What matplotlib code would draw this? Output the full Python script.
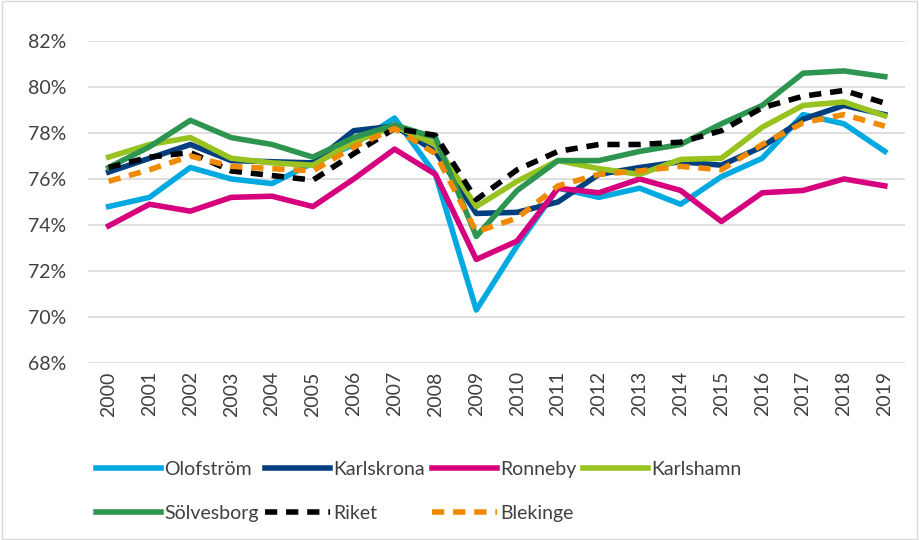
import matplotlib.pyplot as plt
from matplotlib.ticker import FuncFormatter

years = list(range(2000, 2020))

olofstrom = [74.8, 75.2, 76.5, 76.0, 75.8, 76.7, 77.5, 78.65, 76.2, 70.3,
             73.1, 75.6, 75.2, 75.6, 74.9, 76.1, 76.9, 78.8, 78.4, 77.2]
karlskrona = [76.3, 76.9, 77.5, 76.8, 76.75, 76.7, 78.1, 78.3, 77.2, 74.5,
              74.55, 75.0, 76.2, 76.5, 76.75, 76.6, 77.4, 78.6, 79.2, 78.8]
ronneby = [73.96, 74.9, 74.6, 75.2, 75.25, 74.8, 76.0, 77.3, 76.2, 72.5,
           73.3, 75.6, 75.4, 76.0, 75.5, 74.15, 75.4, 75.5, 76.0, 75.7]
karlshamn = [76.95, 77.5, 77.8, 76.9, 76.7, 76.6, 77.6, 78.3, 77.5, 74.8,
             75.9, 76.8, 76.45, 76.2, 76.85, 76.9, 78.25, 79.2, 79.35, 78.75]
solvesborg = [76.5, 77.4, 78.55, 77.8, 77.5, 76.95, 77.8, 78.35, 77.8, 73.5,
              75.5, 76.8, 76.8, 77.2, 77.5, 78.4, 79.2, 80.6, 80.7, 80.45]
riket = [76.5, 76.95, 77.15, 76.35, 76.15, 75.95, 77.1, 78.2, 77.9, 75.1,
         76.4, 77.2, 77.5, 77.5, 77.6, 78.1, 79.1, 79.6, 79.85, 79.3]
blekinge = [75.9, 76.4, 77.0, 76.55, 76.45, 76.35, 77.4, 78.2, 77.1, 73.7,
            74.3, 75.7, 76.2, 76.35, 76.55, 76.4, 77.5, 78.45, 78.8, 78.3]

plt.rcParams['font.family'] = ['Lato', 'DejaVu Sans']

fig = plt.figure(figsize=(9.19, 5.4), dpi=100)
ax = fig.add_axes([0.096, 0.328, 0.889, 0.596])

x = list(range(len(years)))
lw = 4
l1, = ax.plot(x, olofstrom, color='#00A9E0', lw=lw, label='Olofström')
l2, = ax.plot(x, karlskrona, color='#003F7F', lw=lw, label='Karlskrona')
l3, = ax.plot(x, ronneby, color='#D6007E', lw=lw, label='Ronneby')
l4, = ax.plot(x, karlshamn, color='#97C21F', lw=lw, label='Karlshamn')
l5, = ax.plot(x, solvesborg, color='#2E9550', lw=lw, label='Sölvesborg')
l6, = ax.plot(x, riket, color='black', lw=lw, ls=(0, (2.2, 1.6)), label='Riket')
l7, = ax.plot(x, blekinge, color='#F08A00', lw=lw, ls=(0, (2.2, 1.6)), label='Blekinge')

ax.set_ylim(68, 82)
ax.set_yticks(range(68, 83, 2))
ax.yaxis.set_major_formatter(FuncFormatter(lambda v, p: '%d%%' % v))
ax.set_xlim(-0.5, len(years) - 0.5)
ax.set_xticks(x)
ax.set_xticklabels([str(y) for y in years], rotation=90)
ax.tick_params(length=0, labelsize=14, colors='#404040')
ax.tick_params(axis='y', pad=16)
ax.tick_params(axis='x', pad=6)
ax.grid(axis='y', color='#d9d9d9', lw=1.2)
ax.set_axisbelow(True)
for s in ax.spines.values():
    s.set_visible(False)

handles = [l1, l5, l2, l6, l3, l7, l4]
fig.legend(handles=handles, labels=[h.get_label() for h in handles],
           loc='upper left', bbox_to_anchor=(0.098, 0.158), ncol=4,
           frameon=False, fontsize=14, handlelength=3.35, handletextpad=0.15,
           columnspacing=0.35, labelspacing=1.4, labelcolor='#404040',
           borderaxespad=0, borderpad=0.3)

fig.patches.append(plt.Rectangle((0.002, 0.002), 0.996, 0.996, transform=fig.transFigure,
                                 fill=False, edgecolor='#d9d9d9', lw=1))

fig.savefig('out.png', dpi=100)
